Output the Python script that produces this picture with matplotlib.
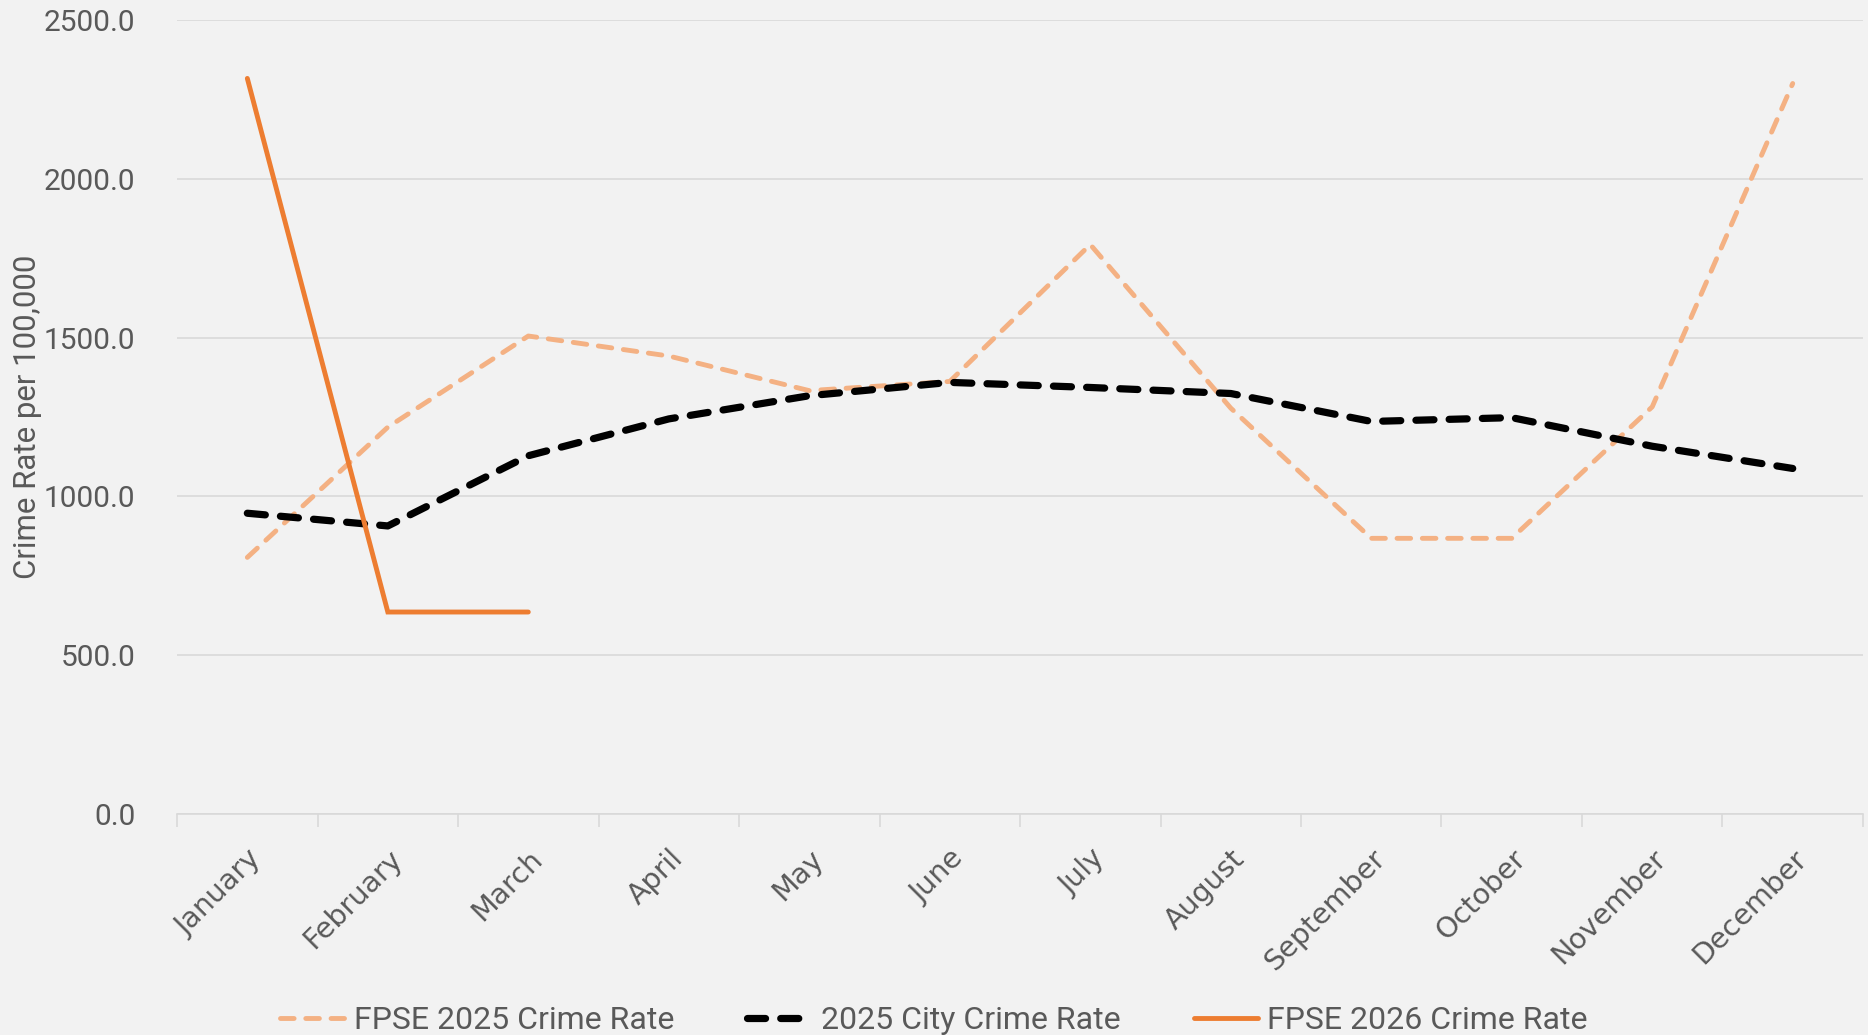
import matplotlib
matplotlib.use("Agg")
import matplotlib.pyplot as plt
from matplotlib.ticker import FixedLocator, FuncFormatter

months = ["January", "February", "March", "April", "May", "June", "July",
          "August", "September", "October", "November", "December"]
fpse_2025 = [808, 1218, 1505, 1442, 1333, 1362, 1793, 1278, 868, 868, 1282, 2300]
city_2025 = [947, 907, 1128, 1244, 1317, 1359, 1343, 1324, 1236, 1248, 1158, 1088]
fpse_2026 = [2316, 636, 636]
yticks = [0, 500, 1000, 1500, 2000, 2500]

FONT = ['Roboto', 'DejaVu Sans']
plt.rcParams['font.family'] = FONT
TXT = '#595959'
BG = '#F2F2F2'
GRID = '#D9D9D9'

fig = plt.figure(figsize=(18.68, 10.35), dpi=100, facecolor=BG)
ax = fig.add_axes([0.0948, 0.2135, 0.9025, 0.7672], facecolor=BG)

x = list(range(len(months)))
l1, = ax.plot(x, fpse_2025, color='#F4B183', lw=3.5, linestyle=(0, (2.8, 2.4)),
              dash_capstyle='round', solid_capstyle='round', label='FPSE 2025 Crime Rate', zorder=3)
l2, = ax.plot(x, city_2025, color='black', lw=5.2, linestyle=(0, (2.5, 2.1)),
              dash_capstyle='round', solid_capstyle='round', label='2025 City Crime Rate', zorder=4)
l3, = ax.plot(x[:len(fpse_2026)], fpse_2026, color='#ED7D31', lw=3.5,
              solid_capstyle='round', solid_joinstyle='miter', label='FPSE 2026 Crime Rate', zorder=5)

ax.set_xlim(-0.5, len(months) - 0.5)
ax.set_ylim(0, 2500)
ax.yaxis.set_major_locator(FixedLocator(yticks))
ax.yaxis.set_major_formatter(FuncFormatter(lambda v, p: f"{v:.1f}"))
ax.grid(axis='y', color=GRID, lw=1.2, zorder=0)
ax.set_axisbelow(True)

ax.set_xticks(x)
ax.set_xticklabels(months, rotation=45, ha='right', rotation_mode='anchor',
                   fontsize=20.5, color=TXT, family='DejaVu Sans')
ax.set_xticks([i - 0.5 for i in range(len(months) + 1)], minor=True)
ax.tick_params(axis='x', which='major', length=0, pad=22)
ax.tick_params(axis='x', which='minor', length=9, width=1.2, color=GRID, direction='out')
ax.tick_params(axis='y', length=0, pad=30, labelsize=21.5, labelcolor=TXT)

for s in ['top', 'right', 'left']:
    ax.spines[s].set_visible(False)
ax.spines['bottom'].set_color(GRID)
ax.spines['bottom'].set_linewidth(1.2)

ax.set_ylabel('Crime Rate per 100,000', fontsize=22.5, color=TXT, labelpad=1)

leg = fig.legend(handles=[l1, l2, l3], loc='center', bbox_to_anchor=(0.5, 0.014),
                 ncol=3, frameon=False, fontsize=23, handlelength=2.0,
                 columnspacing=2.3, handletextpad=0.3)
for t in leg.get_texts():
    t.set_color(TXT)

fig.savefig('out.png', dpi=100, facecolor=BG)
